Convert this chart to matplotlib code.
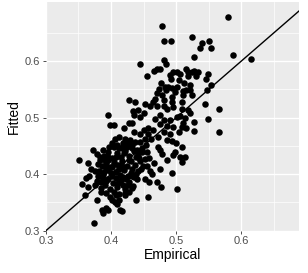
import matplotlib
matplotlib.use("Agg")
import matplotlib.pyplot as plt
import numpy as np

plt.rcParams['font.family'] = ['Liberation Sans', 'DejaVu Sans']

# (empirical, fitted) pairs
top_pts = [(0.580, 0.678), (0.478, 0.662), (0.482, 0.636), (0.492, 0.636), (0.525, 0.643),
           (0.540, 0.632), (0.550, 0.635), (0.537, 0.623), (0.554, 0.624), (0.588, 0.611),
           (0.615, 0.604), (0.445, 0.595), (0.482, 0.603), (0.528, 0.607), (0.484, 0.595)]

upper_pts = [(0.455, 0.573), (0.466, 0.583), (0.471, 0.586), (0.476, 0.587), (0.496, 0.581),
             (0.501, 0.581), (0.506, 0.578), (0.516, 0.587), (0.518, 0.581), (0.525, 0.581),
             (0.533, 0.581), (0.519, 0.574), (0.490, 0.575), (0.492, 0.568), (0.504, 0.567),
             (0.531, 0.573), (0.549, 0.577), (0.546, 0.568), (0.553, 0.558), (0.548, 0.549),
             (0.477, 0.561), (0.483, 0.555), (0.474, 0.550), (0.488, 0.555), (0.493, 0.552),
             (0.501, 0.555), (0.510, 0.548), (0.515, 0.549), (0.522, 0.558), (0.521, 0.549),
             (0.524, 0.540), (0.511, 0.540), (0.485, 0.549), (0.470, 0.543), (0.467, 0.534),
             (0.479, 0.540), (0.482, 0.532), (0.493, 0.536), (0.494, 0.528), (0.509, 0.528),
             (0.545, 0.524), (0.528, 0.583), (0.512, 0.562), (0.498, 0.545)]

mid_pts = [(0.428, 0.532), (0.437, 0.528), (0.453, 0.525), (0.460, 0.521), (0.464, 0.527),
           (0.470, 0.521), (0.482, 0.521), (0.486, 0.515), (0.496, 0.519), (0.509, 0.515),
           (0.519, 0.514), (0.522, 0.508), (0.566, 0.515), (0.549, 0.498), (0.566, 0.475),
           (0.528, 0.493), (0.527, 0.476), (0.510, 0.490), (0.506, 0.503), (0.513, 0.499),
           (0.501, 0.501), (0.491, 0.496), (0.481, 0.496), (0.496, 0.484), (0.509, 0.484),
           (0.516, 0.481), (0.504, 0.475), (0.491, 0.472), (0.481, 0.475), (0.475, 0.505),
           (0.468, 0.498), (0.476, 0.488), (0.486, 0.485), (0.473, 0.466), (0.486, 0.461)]

right_pts = [(0.494, 0.458), (0.500, 0.455), (0.509, 0.449), (0.499, 0.440), (0.496, 0.434),
             (0.506, 0.431), (0.514, 0.431), (0.509, 0.422), (0.486, 0.426), (0.494, 0.403),
             (0.501, 0.374), (0.475, 0.410), (0.475, 0.442), (0.479, 0.436), (0.473, 0.449),
             (0.477, 0.378), (0.457, 0.360), (0.438, 0.354), (0.470, 0.387), (0.458, 0.387),
             (0.466, 0.420), (0.463, 0.400)]

left_mid_pts = [(0.395, 0.505), (0.398, 0.487), (0.404, 0.487), (0.434, 0.511), (0.442, 0.514),
                (0.436, 0.505), (0.445, 0.502), (0.450, 0.508), (0.427, 0.490), (0.432, 0.490),
                (0.420, 0.482), (0.435, 0.474), (0.450, 0.478), (0.444, 0.471), (0.457, 0.482),
                (0.457, 0.471), (0.465, 0.478), (0.462, 0.462), (0.453, 0.462), (0.454, 0.451),
                (0.444, 0.457), (0.437, 0.457), (0.429, 0.460), (0.421, 0.463), (0.413, 0.466),
                (0.406, 0.463), (0.404, 0.449), (0.409, 0.452), (0.417, 0.446), (0.425, 0.449),
                (0.432, 0.446), (0.440, 0.443), (0.448, 0.440), (0.455, 0.440), (0.459, 0.429),
                (0.452, 0.427), (0.444, 0.424), (0.449, 0.415), (0.456, 0.415), (0.460, 0.406),
                (0.453, 0.392), (0.442, 0.405), (0.435, 0.395)]

low_pts = [(0.351, 0.425), (0.355, 0.383), (0.362, 0.393), (0.360, 0.363), (0.372, 0.443),
           (0.374, 0.314), (0.379, 0.355), (0.385, 0.368), (0.378, 0.388), (0.367, 0.397),
           (0.375, 0.405), (0.380, 0.418), (0.388, 0.443), (0.383, 0.431), (0.391, 0.425),
           (0.386, 0.395), (0.391, 0.380), (0.386, 0.337), (0.392, 0.341), (0.395, 0.337),
           (0.387, 0.331), (0.402, 0.355), (0.407, 0.363), (0.412, 0.355), (0.417, 0.335),
           (0.414, 0.336), (0.421, 0.363), (0.426, 0.380), (0.418, 0.395), (0.412, 0.410),
           (0.402, 0.413), (0.395, 0.431), (0.407, 0.431), (0.420, 0.437), (0.401, 0.455),
           (0.397, 0.448), (0.406, 0.351), (0.410, 0.348), (0.422, 0.366), (0.432, 0.375),
           (0.365, 0.378), (0.370, 0.410), (0.364, 0.420), (0.382, 0.405)]

core_pts = [(0.385, 0.376), (0.392, 0.388), (0.398, 0.373), (0.403, 0.384), (0.409, 0.377),
            (0.415, 0.389), (0.421, 0.374), (0.428, 0.386), (0.434, 0.379), (0.440, 0.391),
            (0.388, 0.399), (0.395, 0.408), (0.401, 0.396), (0.407, 0.404), (0.414, 0.398),
            (0.420, 0.407), (0.426, 0.397), (0.432, 0.409), (0.438, 0.401), (0.446, 0.410),
            (0.386, 0.414), (0.393, 0.419), (0.399, 0.412), (0.405, 0.422), (0.411, 0.417),
            (0.417, 0.424), (0.424, 0.415), (0.430, 0.423), (0.437, 0.416), (0.443, 0.428),
            (0.389, 0.433), (0.396, 0.440), (0.402, 0.428), (0.409, 0.438), (0.415, 0.431),
            (0.422, 0.441), (0.428, 0.433), (0.435, 0.441), (0.441, 0.436), (0.448, 0.447),
            (0.398, 0.360), (0.404, 0.368), (0.413, 0.365), (0.419, 0.380), (0.427, 0.368),
            (0.393, 0.366), (0.380, 0.396), (0.376, 0.380), (0.383, 0.425), (0.378, 0.435),
            (0.412, 0.446), (0.426, 0.455), (0.433, 0.452), (0.418, 0.456), (0.438, 0.431),
            (0.430, 0.402), (0.423, 0.392), (0.411, 0.385), (0.400, 0.403), (0.392, 0.411),
            (0.396, 0.392), (0.417, 0.414), (0.404, 0.418), (0.427, 0.426), (0.390, 0.404),
            (0.433, 0.396), (0.408, 0.394), (0.419, 0.450), (0.385, 0.387), (0.396, 0.425)]

points = top_pts + upper_pts + mid_pts + right_pts + left_mid_pts + low_pts + core_pts
empirical = np.array([p[0] for p in points])
fitted = np.array([p[1] for p in points])

x_ticks = [0.3, 0.4, 0.5, 0.6]
y_ticks = [0.3, 0.4, 0.5, 0.6]

fig = plt.figure(figsize=(3.08, 2.73), dpi=100)
ax = fig.add_axes([0.149, 0.155, 0.822, 0.838])
ax.set_facecolor('#EBEBEB')

ax.set_xlim(0.3, 0.689)
ax.set_ylim(0.3, 0.705)

for v in [0.35, 0.45, 0.55, 0.65]:
    ax.axvline(v, color='white', lw=0.5, zorder=0)
    ax.axhline(v, color='white', lw=0.5, zorder=0)
for v in x_ticks:
    ax.axvline(v, color='white', lw=1.0, zorder=0)
for v in y_ticks:
    ax.axhline(v, color='white', lw=1.0, zorder=0)

ax.scatter(empirical, fitted, s=22, color='black', linewidths=0, zorder=2)
ax.axline((0.3, 0.3), slope=1, color='black', lw=1.0, zorder=3)

for s in ax.spines.values():
    s.set_visible(False)

ax.set_xticks(x_ticks)
ax.set_yticks(y_ticks)
ax.set_xticklabels([f"{t:.1f}" for t in x_ticks])
ax.set_yticklabels([f"{t:.1f}" for t in y_ticks])
ax.tick_params(axis='both', colors='#333333', labelcolor='#4D4D4D', labelsize=8,
               length=2.5, width=0.6, pad=1.5)

ax.set_xlabel("Empirical", fontsize=10, labelpad=1)
ax.set_ylabel("Fitted", fontsize=10, labelpad=3)

fig.savefig("out.png", dpi=100)
